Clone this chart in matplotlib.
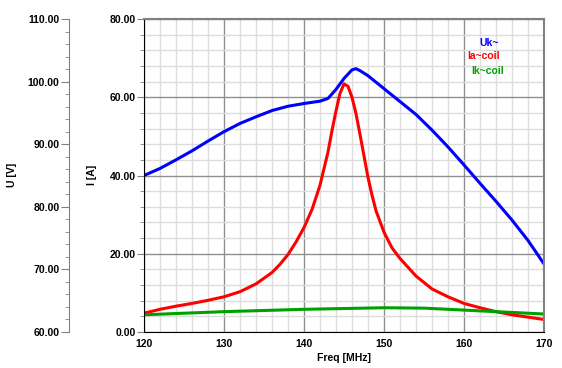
"""Resonance curves: coil current and voltage against frequency."""
import matplotlib
matplotlib.use("Agg")
import matplotlib.pyplot as plt
from matplotlib.ticker import MultipleLocator, FormatStrFormatter

plt.rcParams['font.family'] = ['Liberation Sans', 'DejaVu Sans']
plt.rcParams['font.size'] = 7.5
plt.rcParams['font.weight'] = 'bold'

# Data
freq_uk = [120, 122, 124, 126, 128, 130, 132, 134, 136, 138, 140, 142, 143,
           144, 145, 146, 146.5, 147, 148, 150, 152, 154, 156, 158, 160, 162,
           164, 166, 168, 170]
uk = [40.0, 41.8, 44.0, 46.3, 48.8, 51.2, 53.3, 55.0, 56.6, 57.7, 58.4, 59.0,
      59.7, 62.0, 64.8, 67.0, 67.3, 66.8, 65.5, 62.2, 58.9, 55.6, 51.6, 47.3,
      42.7, 38.0, 33.4, 28.6, 23.4, 17.4]

freq_ia = [120, 122, 124, 126, 128, 130, 132, 134, 136, 137, 138, 139, 140,
           141, 142, 143, 143.5, 144, 144.5, 145, 145.5, 146, 146.5, 147,
           147.5, 148, 148.5, 149, 150, 151, 152, 154, 156, 158, 160, 162,
           164, 166, 168, 170]
ia = [4.8, 5.8, 6.6, 7.3, 8.1, 9.0, 10.3, 12.3, 15.2, 17.3, 19.8, 23.0, 26.7,
      31.3, 37.5, 46.0, 51.5, 56.5, 61.0, 63.4, 62.8, 60.0, 55.8, 50.5,
      45.0, 39.5, 35.0, 31.0, 25.5, 21.5, 18.8, 14.3, 11.0, 9.0, 7.3, 6.2,
      5.2, 4.4, 3.8, 3.2]

freq_ik = [120, 125, 130, 135, 140, 145, 150, 155, 160, 165, 170]
ik = [4.4, 4.8, 5.2, 5.5, 5.8, 6.0, 6.2, 6.1, 5.6, 5.1, 4.6]

# Figure and axes
fig = plt.figure(figsize=(5.62, 3.68), dpi=100)
ax = fig.add_axes([144 / 562, 1 - 332 / 368, 400 / 562, 313 / 368])

ax.plot(freq_uk, uk, color='#0000ff', lw=2.2, label='Uk~')
ax.plot(freq_ia, ia, color='#ff0000', lw=2.2, label='Ia~coil')
ax.plot(freq_ik, ik, color='#00a000', lw=2.2, label='Ik~coil')

ax.set_xlim(120, 170)
ax.set_ylim(0, 80)
ax.xaxis.set_major_locator(MultipleLocator(10))
ax.xaxis.set_minor_locator(MultipleLocator(2))
ax.yaxis.set_major_locator(MultipleLocator(20))
ax.yaxis.set_minor_locator(MultipleLocator(4))
ax.yaxis.set_major_formatter(FormatStrFormatter('%.2f'))

ax.set_axisbelow(True)
ax.grid(which='major', color='#909090', lw=1.0)
ax.grid(which='minor', color='#dcdcdc', lw=1.0)

for side in ['top', 'right']:
    ax.spines[side].set_color('#808080')
    ax.spines[side].set_linewidth(1.5)
ax.spines['left'].set_color('black')
ax.spines['bottom'].set_color('black')

ax.tick_params(axis='y', which='major', length=5, color='#808080', pad=1)
ax.tick_params(axis='y', which='minor', length=3, color='#808080')
ax.tick_params(axis='x', which='both', length=0, pad=5)

ax.set_xlabel('Freq [MHz]', fontweight='bold', labelpad=3)

# Second y axis (voltage) on the far left
ax2 = ax.twinx()
ax2.set_ylim(60, 110)
ax2.spines['left'].set_position(('axes', (69 - 144) / 400))
ax2.spines['left'].set_visible(True)
ax2.spines['left'].set_color('#808080')
for side in ['right', 'top', 'bottom']:
    ax2.spines[side].set_visible(False)
ax2.yaxis.set_ticks_position('left')
ax2.yaxis.set_major_locator(MultipleLocator(10))
ax2.yaxis.set_minor_locator(MultipleLocator(2))
ax2.yaxis.set_major_formatter(FormatStrFormatter('%.2f'))
ax2.tick_params(axis='y', which='major', length=6, color='#808080', pad=1)
ax2.tick_params(axis='y', which='minor', length=3, color='#808080')

# Axis titles placed like the original
fig.text(12 / 562, 1 - 175 / 368, 'U [V]', rotation=90, ha='center',
         va='center', fontweight='bold')
fig.text(92 / 562, 1 - 175 / 368, 'I [A]', rotation=90, ha='center',
         va='center', fontweight='bold')

# Legend as coloured text
ax.text(0.8625, 0.923, 'Uk~', color='#0000ff', transform=ax.transAxes,
        ha='center', va='center', fontweight='bold')
ax.text(0.85, 0.882, 'Ia~coil', color='#ff0000', transform=ax.transAxes,
        ha='center', va='center', fontweight='bold')
ax.text(0.86, 0.834, 'Ik~coil', color='#00a000', transform=ax.transAxes,
        ha='center', va='center', fontweight='bold')

fig.savefig('out.png', dpi=100)
